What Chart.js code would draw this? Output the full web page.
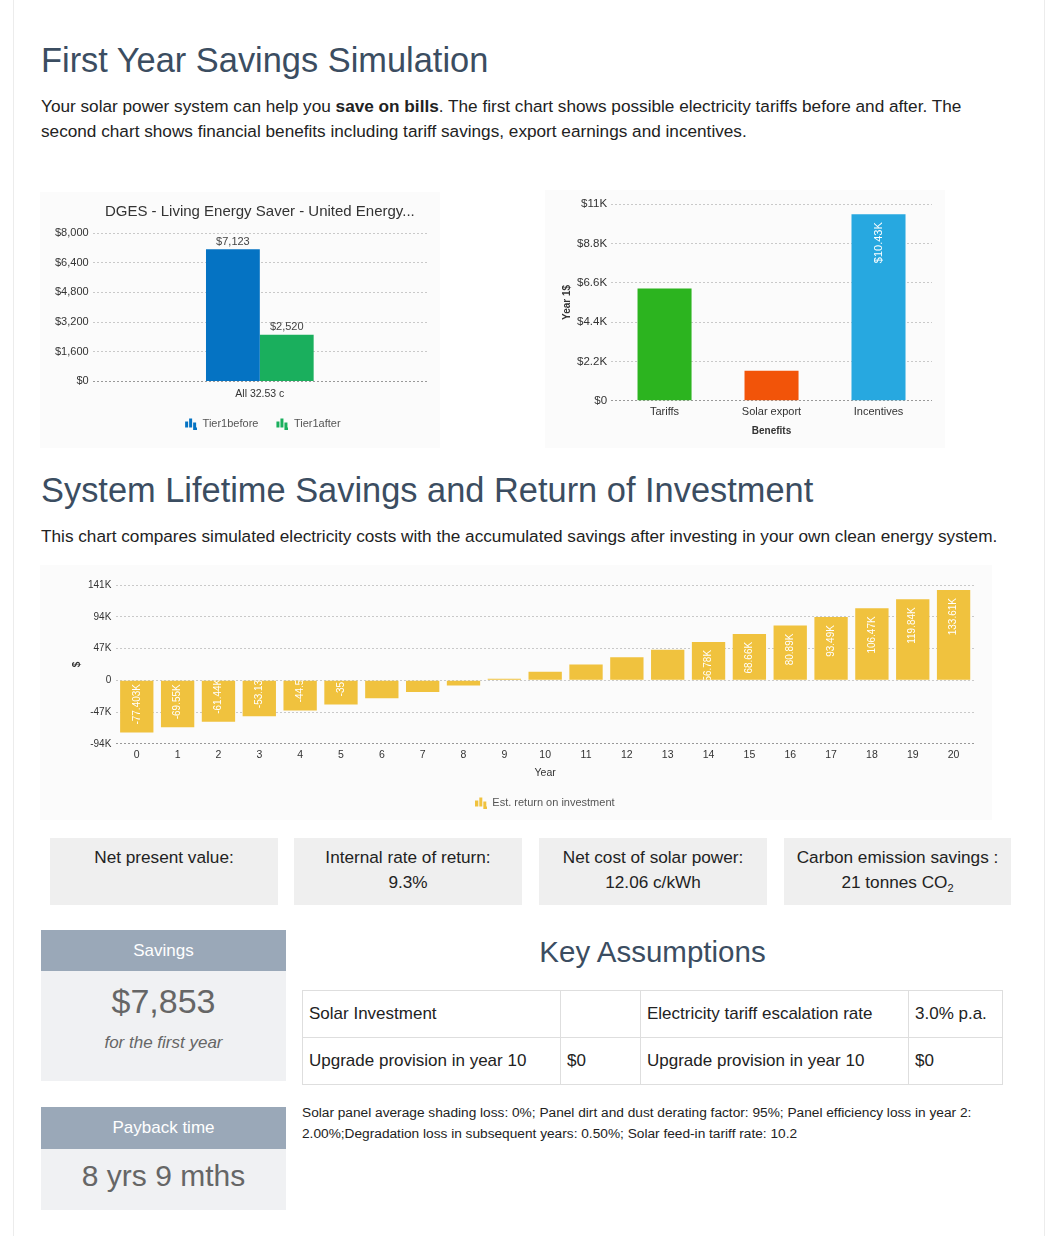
<!DOCTYPE html>
<html><head><meta charset="utf-8">
<script src="https://cdn.jsdelivr.net/npm/chart.js@4.4.1/dist/chart.umd.min.js"></script>
<style>
body{margin:0;background:#fff;font-family:"Liberation Sans",Arial,sans-serif;color:#222;}
#page{position:relative;width:1049px;height:1236px;overflow:hidden;}
#frame{position:absolute;left:13px;top:0;width:1032px;height:1236px;border-left:1px solid #ececec;border-right:1px solid #ececec;box-sizing:border-box;}
.abs{position:absolute;}
.h{margin:0;font-weight:normal;color:#3b4d61;font-size:34.4px;line-height:34.4px;white-space:nowrap;}
.p{font-size:17.2px;line-height:25px;color:#222;}
.cw{position:absolute;background:#fbfbfb;}
.stat{position:absolute;top:838px;height:67px;width:228px;background:#efefef;text-align:center;font-size:17.2px;line-height:25px;padding-top:7px;box-sizing:border-box;color:#222;}
.hd{position:absolute;left:41px;width:245px;background:#9aa8b8;color:#fff;text-align:center;font-size:17px;}
.bd{position:absolute;left:41px;width:245px;background:#f0f1f3;color:#666;text-align:center;}
table{position:absolute;left:302px;top:990px;width:701px;border-collapse:collapse;font-size:17px;color:#222;}
td{border:1px solid #dedede;height:47px;padding:0 6px;box-sizing:border-box;}
.foot{position:absolute;left:302px;top:1102px;width:710px;font-size:13.7px;line-height:21px;color:#222;}
</style></head>
<body><div id="page">
<div id="frame"></div>
<div class="abs h" style="left:41px;top:43px;">First Year Savings Simulation</div>
<div class="abs p" style="left:41px;top:94px;width:935px;">Your solar power system can help you <b>save on bills</b>. The first chart shows possible electricity tariffs before and after. The second chart shows financial benefits including tariff savings, export earnings and incentives.</div>

<div class="cw" style="left:40px;top:192px;width:400px;height:256px;"><canvas id="c1"></canvas></div>
<div class="cw" style="left:545px;top:190px;width:400px;height:258px;"><canvas id="c2"></canvas></div>

<div class="abs h" style="left:41px;top:473px;">System Lifetime Savings and Return of Investment</div>
<div class="abs p" style="left:41px;top:524px;width:1000px;white-space:nowrap;">This chart compares simulated electricity costs with the accumulated savings after investing in your own clean energy system.</div>

<div class="cw" style="left:40px;top:565px;width:952px;height:255px;"><canvas id="c3"></canvas></div>

<div class="stat" style="left:50px;">Net present value:</div>
<div class="stat" style="left:294px;">Internal rate of return:<br>9.3%</div>
<div class="stat" style="left:539px;">Net cost of solar power:<br>12.06 c/kWh</div>
<div class="stat" style="left:784px;width:227px;">Carbon emission savings :<br>21 tonnes CO<sub style="font-size:11px;line-height:0;">2</sub></div>

<div class="hd" style="top:930px;height:41px;line-height:41px;">Savings</div>
<div class="bd" style="top:971px;height:110px;">
  <div style="font-size:34px;line-height:34px;margin-top:13px;">$7,853</div>
  <div style="font-size:17px;line-height:20px;margin-top:15px;font-style:italic;">for the first year</div>
</div>
<div class="hd" style="top:1107px;height:42px;line-height:42px;">Payback time</div>
<div class="bd" style="top:1149px;height:61px;">
  <div style="font-size:30px;line-height:30px;margin-top:12px;">8 yrs 9 mths</div>
</div>

<div class="abs h" style="left:302px;width:701px;text-align:center;top:937px;font-size:29.5px;line-height:29.5px;">Key Assumptions</div>
<table>
<tr><td style="width:258px;">Solar Investment</td><td style="width:80px;"></td><td style="width:268px;">Electricity tariff escalation rate</td><td>3.0% p.a.</td></tr>
<tr><td>Upgrade provision in year 10</td><td>$0</td><td>Upgrade provision in year 10</td><td>$0</td></tr>
</table>
<div class="foot">Solar panel average shading loss: 0%; Panel dirt and dust derating factor: 95%; Panel efficiency loss in year 2: 2.00%;Degradation loss in subsequent years: 0.50%; Solar feed-in tariff rate: 10.2</div>
</div>

<script>
// ---- data ----
const tariffCategories = ['All 32.53 c'];
const tier1Before = [7123];
const tier1After = [2520];
const tariffTicks = [0, 1600, 3200, 4800, 6400, 8000];

const benefitCategories = ['Tariffs', 'Solar export', 'Incentives'];
const benefitValues = [6270, 1680, 10430];
const benefitLabels = ['', '', '$10.43K'];
const benefitTicks = [0, 2200, 4400, 6600, 8800, 11000];

const years = ['0','1','2','3','4','5','6','7','8','9','10','11','12','13','14','15','16','17','18','19','20'];
const roiValues = [-77403, -69550, -61440, -53130, -44550, -35710, -26610, -17230, -7570, 2380, 12630, 23180, 34050, 45250, 56780, 68660, 80890, 93490, 106470, 119840, 133610];
const roiLabels = ['-77.403K','-69.55K','-61.44K','-53.13K','-44.55K','-35.71K','','','','','','','','','56.78K','68.66K','80.89K','93.49K','106.47K','119.84K','133.61K'];
const roiTicks = [-94000, -47000, 0, 47000, 94000, 141000];

// ---- helpers ----
const FONT = '"Liberation Sans", Arial, sans-serif';
Chart.defaults.font.family = FONT;
Chart.defaults.color = '#333';
Chart.defaults.animation = false;

function barIcon(color, lead){
  lead = lead || 0;
  const c = document.createElement('canvas'); c.width = 12 + lead; c.height = 12;
  const g = c.getContext('2d'); g.fillStyle = color;
  g.translate(lead, 0);
  g.fillRect(0, 4, 3, 6); g.fillRect(4, 1, 3, 9); g.fillRect(8, 5, 3, 5); g.fillRect(8, 10, 4, 2);
  return c;
}

const barLabels = {
  id: 'barLabels',
  afterDatasetsDraw(chart){
    const ctx = chart.ctx;
    chart.data.datasets.forEach((ds, di) => {
      if (!ds.valueLabels) return;
      const meta = chart.getDatasetMeta(di);
      meta.data.forEach((bar, i) => {
        const txt = ds.valueLabels[i]; if (!txt) return;
        ctx.save();
        ctx.font = (ds.labelSize || 10) + 'px ' + FONT;
        ctx.fillStyle = ds.labelColor || '#444';
        if (ds.labelMode === 'top') {
          ctx.textAlign = 'center'; ctx.textBaseline = 'bottom';
          ctx.fillText(txt, bar.x, bar.y - 2);
        } else {
          const top = Math.min(bar.y, bar.base), h = Math.abs(bar.base - bar.y);
          ctx.beginPath(); ctx.rect(bar.x - bar.width/2, top, bar.width, h); ctx.clip();
          const up = bar.y < bar.base;
          ctx.translate(bar.x, bar.y + (up ? 8 : -8));
          ctx.rotate(-Math.PI/2);
          ctx.textAlign = up ? 'right' : 'left';
          ctx.textBaseline = 'middle';
          ctx.fillText(txt, 0, 0);
        }
        ctx.restore();
      });
    });
  }
};

function yGrid(){ return { drawTicks:false, color: c => c.index === 0 ? '#999' : '#c9c9c9' }; }

// ---- chart 1 ----
new Chart(document.getElementById('c1'), {
  type: 'bar',
  data: { labels: tariffCategories, datasets: [
    { label:'Tier1before', data: tier1Before, backgroundColor:'#0573c3', valueLabels: tier1Before.map(v => '$' + v.toLocaleString('en-US')), labelMode:'top', labelSize:11, pointStyle: barIcon('#0573c3', 6) },
    { label:'Tier1after', data: tier1After, backgroundColor:'#1aaf5d', valueLabels: tier1After.map(v => '$' + v.toLocaleString('en-US')), labelMode:'top', labelSize:11, pointStyle: barIcon('#1aaf5d', 6) }
  ]},
  options: {
    responsive:true, maintainAspectRatio:false,
    layout:{ padding:{ left:11, right:13, top:11, bottom:9 } },
    datasets:{ bar:{ categoryPercentage:0.322, barPercentage:1 } },
    plugins:{
      title:{ display:true, fullSize:false, text:'DGES - Living Energy Saver - United Energy...', font:{ size:15, weight:'normal' }, color:'#333', padding:{ top:0, bottom:12 } },
      legend:{ position:'bottom', fullSize:false, labels:{ usePointStyle:true, pointStyleWidth:18, font:{ size:11 }, color:'#555', padding:12 } },
      tooltip:{ enabled:false }
    },
    scales:{
      x:{ grid:{ display:false, drawTicks:false }, border:{ display:false }, ticks:{ font:{ size:10.5 }, color:'#333', padding:6 } },
      y:{ min:0, max:8000, afterBuildTicks: s => { s.ticks = tariffTicks.map(v => ({ value:v })); },
          grid: yGrid(), border:{ display:false, dash:[2,2] },
          ticks:{ font:{ size:11 }, color:'#333', padding:4, callback: v => '$' + Number(v).toLocaleString('en-US') } }
    }
  },
  plugins:[barLabels]
});

// ---- chart 2 ----
new Chart(document.getElementById('c2'), {
  type: 'bar',
  data: { labels: benefitCategories, datasets: [
    { label:'Benefits', data: benefitValues, backgroundColor:['#2cb41f','#f25409','#27a8e0'], valueLabels: benefitLabels, labelColor:'#fff', labelSize:11 }
  ]},
  options: {
    responsive:true, maintainAspectRatio:false,
    layout:{ padding:{ left:14, right:13, top:14, bottom:8 } },
    datasets:{ bar:{ categoryPercentage:1, barPercentage:0.505 } },
    plugins:{ legend:{ display:false }, tooltip:{ enabled:false } },
    scales:{
      x:{ grid:{ display:false, drawTicks:false }, border:{ display:false }, ticks:{ font:{ size:11 }, color:'#333', padding:5 },
          title:{ display:true, text:'Benefits', font:{ size:10, weight:'bold' }, color:'#333', padding:{ top:1, bottom:3 } } },
      y:{ min:0, max:11000, afterBuildTicks: s => { s.ticks = benefitTicks.map(v => ({ value:v })); },
          grid: yGrid(), border:{ display:false, dash:[2,2] },
          ticks:{ font:{ size:11.5 }, color:'#333', padding:4, callback: v => v === 0 ? '$0' : '$' + (v/1000) + 'K' },
          title:{ display:true, text:'Year 1$', font:{ size:10, weight:'bold' }, color:'#333', padding:{ top:2, bottom:0 } } }
    }
  },
  plugins:[barLabels]
});

// ---- chart 3 ----
new Chart(document.getElementById('c3'), {
  type: 'bar',
  data: { labels: years, datasets: [
    { label:'Est. return on investment', data: roiValues, backgroundColor:'#f0c23e', valueLabels: roiLabels, labelColor:'#fff', labelSize:10, pointStyle: barIcon('#f0c23e') }
  ]},
  options: {
    responsive:true, maintainAspectRatio:false,
    layout:{ padding:{ left:27, right:18, top:20, bottom:2 } },
    datasets:{ bar:{ categoryPercentage:1, barPercentage:0.816 } },
    plugins:{
      legend:{ position:'bottom', fullSize:false, labels:{ usePointStyle:true, font:{ size:11 }, color:'#555', padding:14 } },
      tooltip:{ enabled:false }
    },
    scales:{
      x:{ grid:{ display:false, drawTicks:false }, border:{ display:false }, ticks:{ font:{ size:10.5 }, color:'#333', padding:5 },
          title:{ display:true, text:'Year', font:{ size:10.5 }, color:'#333', padding:{ top:0 } } },
      y:{ min:-94000, max:141000, afterBuildTicks: s => { s.ticks = roiTicks.map(v => ({ value:v })); },
          grid: yGrid(), border:{ display:false, dash:[2,2] },
          ticks:{ font:{ size:10 }, color:'#333', padding:5, callback: v => v === 0 ? '0' : (v/1000) + 'K' },
          title:{ display:true, text:'$', font:{ size:10, weight:'bold' }, color:'#333', padding:{ top:4, bottom:0 } } }
    }
  },
  plugins:[barLabels]
});
</script>
</body></html>
